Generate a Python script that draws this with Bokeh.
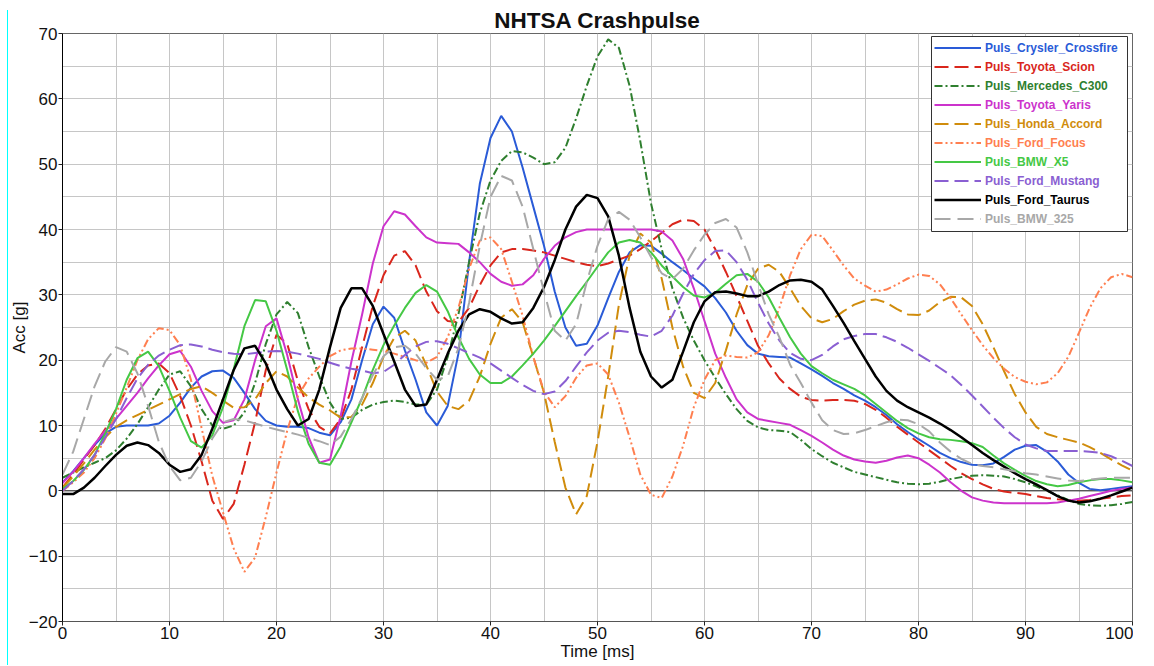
from bokeh.plotting import figure
from bokeh.models import (ColumnDataSource, Range1d, SingleIntervalTicker, Span,
                          Legend, LegendItem, BoxAnnotation)
from bokeh.embed import file_html
from bokeh.resources import INLINE

# ---------------- data ----------------
time_ms = list(range(0, 101))

crysler_crossfire = [
    1.3, 3.0, 5.0, 7.0, 8.8, 9.8, 10.0, 10.0, 10.0, 10.3,
    11.5, 13.5, 15.8, 17.5, 18.3, 18.4, 17.3, 15.0, 12.5, 10.7,
    10.0, 9.8, 9.8, 9.6, 8.9, 8.5, 10.5, 14.0, 20.0, 25.5,
    28.2, 26.5, 21.5, 17.0, 12.0, 10.0, 13.0, 21.0, 35.0, 47.0,
    54.0, 57.4, 55.0, 49.5, 43.5, 37.5, 30.5, 25.0, 22.2, 22.5,
    25.3, 29.5, 33.5, 36.5, 37.6, 37.5, 36.3, 35.0, 33.8, 32.5,
    31.3, 29.5, 27.3, 24.5, 22.3, 21.0, 20.6, 20.5, 20.4, 19.5,
    18.6, 17.6, 16.5, 15.6, 14.6, 13.8, 12.8, 11.6, 10.2, 9.0,
    7.9, 6.9, 5.8, 5.0, 4.4, 4.0, 3.9, 4.2, 5.2, 6.3,
    6.9, 7.0, 6.0, 4.5, 2.5, 1.2, 0.3, 0.1, 0.3, 0.5, 0.7]

toyota_scion = [
    0.5, 2.5, 4.8, 7.0, 9.5, 12.5, 15.5, 17.8, 19.2, 19.5,
    18.0, 14.5, 10.0, 4.5, -1.5, -4.3, -2.0, 4.0, 10.5, 18.5,
    23.9, 22.5, 16.8, 12.5, 9.8, 8.8, 11.0, 15.5, 22.0, 28.3,
    33.0, 36.0, 36.7, 34.5, 30.5, 27.5, 26.0, 25.8, 28.0, 31.5,
    34.5, 36.5, 37.0, 37.0, 36.8, 36.5, 36.0, 35.5, 35.0, 34.6,
    34.4, 34.8, 35.4, 36.0, 37.0, 38.2, 39.5, 40.8, 41.5, 41.3,
    40.0, 37.0, 33.5, 29.8, 26.0, 22.2, 19.5, 17.2, 15.6, 14.4,
    13.9, 13.8, 13.9, 13.9, 13.8, 13.3, 12.4, 11.2, 9.8, 8.6,
    7.4, 6.2, 5.0, 3.8, 2.7, 1.8, 1.0, 0.3, -0.1, -0.3,
    -0.5, -0.8, -1.1, -1.3, -1.4, -1.5, -1.4, -1.2, -1.0, -0.8, -0.7]

mercedes_c300 = [
    2.0, 2.8, 3.6, 4.3, 5.0, 6.2, 8.0, 10.2, 12.8, 15.5,
    17.8, 18.3, 16.0, 12.5, 10.0, 9.5, 10.0, 12.0, 16.5, 22.5,
    27.0, 28.9, 27.2, 22.0, 17.5, 13.5, 11.0, 11.2, 12.4, 13.2,
    13.6, 13.8, 13.6, 13.2, 13.2, 15.5, 20.5, 27.0, 35.0, 42.5,
    47.5, 50.5, 52.0, 51.8, 51.0, 50.0, 50.3, 52.5, 57.0, 62.0,
    66.5, 69.1, 67.8, 62.0, 53.5, 44.0, 37.0, 31.0, 26.5, 23.0,
    20.0, 17.3, 14.8, 12.5, 10.7, 9.7, 9.3, 9.2, 9.0, 7.8,
    6.4, 5.3, 4.3, 3.6, 2.9, 2.5, 2.1, 1.7, 1.3, 1.1,
    1.0, 1.1, 1.4, 1.8, 2.1, 2.3, 2.4, 2.3, 2.2, 1.8,
    1.3, 0.7, 0.0, -0.7, -1.4, -2.0, -2.2, -2.3, -2.2, -2.0, -1.7]

toyota_yaris = [
    1.2, 2.9, 5.0, 7.2, 9.2, 11.0, 13.0, 15.0, 17.2, 19.2,
    20.9, 21.4, 19.0, 15.3, 12.2, 10.4, 10.8, 14.0, 20.0, 25.2,
    26.4, 20.8, 14.0, 8.2, 4.3, 4.8, 11.5, 19.8, 27.0, 34.8,
    40.5, 42.8, 42.3, 40.5, 38.8, 38.0, 37.9, 37.8, 36.5, 35.0,
    33.2, 32.0, 31.4, 31.6, 33.0, 35.5, 37.5, 38.8, 39.6, 40.0,
    40.0, 40.0, 40.0, 40.0, 40.0, 40.0, 39.7, 38.3, 35.5, 31.0,
    26.0, 21.0, 17.3, 14.0, 12.0, 11.0, 10.7, 10.4, 10.1, 9.3,
    8.4, 7.4, 6.3, 5.4, 4.8, 4.5, 4.3, 4.6, 5.1, 5.4,
    5.0, 4.0, 2.8, 1.3, 0.0, -1.0, -1.5, -1.8, -1.9, -1.9,
    -1.9, -1.9, -1.9, -1.8, -1.5, -1.2, -0.8, -0.4, 0.0, 0.3, 0.5]

honda_accord = [
    0.5, 2.2, 4.2, 6.3, 8.2, 9.8, 10.8, 11.6, 12.4, 13.2,
    14.0, 14.8, 15.6, 16.0, 15.0, 13.8, 12.7, 12.8, 14.0, 16.5,
    18.3, 17.5, 15.8, 14.3, 13.2, 12.3, 11.2, 11.3, 13.2, 16.5,
    20.5, 23.4, 24.5, 23.0, 19.2, 15.2, 13.0, 12.5, 13.8, 17.5,
    22.5, 26.5, 27.8, 25.8, 20.5, 15.0, 7.5, 0.5, -3.6, -0.8,
    7.5, 17.5, 28.5, 36.0, 39.4, 38.0, 32.5, 25.0, 19.0, 15.0,
    14.2, 16.5, 21.5, 27.0, 31.5, 34.0, 34.6, 33.5, 31.0, 28.3,
    26.4, 25.8, 26.3, 27.5, 28.5, 29.1, 29.3, 28.8, 27.8, 27.0,
    26.9, 27.6, 28.9, 29.7, 29.6, 28.3, 25.5, 22.0, 18.3, 14.8,
    12.0, 9.8, 8.7, 8.2, 7.8, 7.4, 6.7, 5.8, 4.8, 3.9, 3.1]

ford_focus = [
    0.0, 1.3, 2.8, 5.0, 8.0, 11.8, 15.8, 20.0, 23.2, 24.9,
    24.6, 22.3, 17.0, 9.6, 2.3, -3.3, -8.8, -12.4, -10.2, -4.0,
    2.8, 9.2, 14.5, 17.2, 19.0, 20.6, 21.5, 21.8, 21.8, 21.6,
    21.4, 21.0, 20.5, 20.0, 19.6, 20.5, 23.5, 28.0, 34.0, 38.3,
    38.8, 37.0, 32.0, 26.8, 20.5, 15.2, 12.8, 14.5, 17.3, 19.2,
    19.5, 17.8, 13.5, 8.2, 2.5, -0.6, -1.1, 2.2, 6.9, 12.8,
    17.0, 20.0, 20.7, 20.5, 20.4, 21.2, 23.8, 28.0, 33.0, 37.0,
    39.2, 39.0, 36.8, 34.5, 32.5, 31.4, 30.5, 30.8, 31.6, 32.5,
    33.1, 32.9, 31.6, 29.5, 27.0, 24.6, 22.3, 20.3, 18.7, 17.4,
    16.7, 16.3, 16.6, 18.0, 20.5, 24.2, 28.0, 31.0, 32.7, 33.2, 32.7]

bmw_x5 = [
    0.3, 1.5, 3.2, 5.5, 8.8, 12.5, 17.0, 20.3, 21.3, 19.1,
    15.3, 11.2, 7.6, 6.6, 8.5, 12.8, 18.6, 25.2, 29.2, 29.0,
    24.5, 18.5, 12.2, 7.2, 4.3, 4.0, 6.8, 10.5, 14.2, 18.5,
    22.3, 25.3, 28.0, 30.3, 31.5, 30.5, 27.5, 23.5, 20.2, 17.8,
    16.5, 16.5, 17.5, 19.2, 21.0, 23.0, 25.2, 27.5, 29.8, 32.0,
    34.3, 36.5, 38.0, 38.4, 38.0, 36.5, 34.5, 32.8, 31.2, 29.9,
    29.6, 30.3, 31.7, 33.0, 33.2, 32.0, 29.6, 26.5, 23.5, 21.0,
    19.1, 18.0, 17.0, 16.3, 15.6, 14.6, 13.3, 12.0, 10.7, 9.6,
    8.8, 8.2, 7.9, 7.8, 7.6, 7.3, 6.7, 5.4, 4.2, 3.2,
    2.3, 1.5, 1.0, 0.7, 0.9, 1.3, 1.6, 1.8, 1.8, 1.6, 1.3]

ford_mustang = [
    0.0, 1.5, 3.3, 5.5, 8.2, 11.0, 14.2, 17.2, 19.3, 20.7,
    21.6, 22.3, 22.4, 22.1, 21.6, 21.2, 21.0, 20.9, 21.1, 21.3,
    21.4, 21.3, 21.0, 20.6, 20.2, 19.6, 19.1, 18.7, 18.4, 18.0,
    18.2, 19.3, 20.8, 22.1, 22.8, 22.9, 22.5, 21.8, 21.1, 20.4,
    19.5, 18.4, 17.3, 16.2, 15.3, 14.8, 15.2, 16.8, 19.0, 21.2,
    23.0, 24.2, 24.5, 24.3, 23.9, 23.6, 24.5, 26.8, 30.2, 33.2,
    35.3, 36.7, 36.8, 35.0, 32.3, 28.8, 25.6, 23.0, 21.1, 20.2,
    20.0, 20.8, 22.1, 23.2, 23.7, 24.0, 24.0, 23.5, 22.8, 21.9,
    20.9, 19.9, 18.8, 17.7, 16.2, 14.6, 12.9, 11.2, 9.6, 8.2,
    7.1, 6.5, 6.1, 6.1, 6.1, 6.1, 6.0, 5.8, 5.3, 4.6, 3.8]

ford_taurus = [
    -0.5, -0.5, 0.5, 2.0, 3.8, 5.5, 6.9, 7.4, 7.0, 5.8,
    4.0, 2.9, 3.3, 5.5, 9.5, 14.0, 18.5, 21.8, 22.2, 19.5,
    15.5, 12.5, 10.0, 11.0, 15.5, 22.0, 28.0, 31.0, 31.0, 28.3,
    24.0, 19.8, 15.5, 13.0, 13.2, 17.0, 21.0, 24.5, 27.0, 27.8,
    27.4, 26.4, 25.6, 25.8, 28.0, 31.2, 35.3, 40.0, 43.5, 45.3,
    44.8, 42.0, 36.0, 28.0, 21.3, 17.5, 15.8, 17.0, 21.3, 25.8,
    29.0, 30.4, 30.5, 30.2, 29.8, 29.8, 30.5, 31.5, 32.2, 32.3,
    32.0, 30.8, 28.3, 25.7, 22.9, 20.2, 17.5, 15.3, 13.8, 12.8,
    12.0, 11.2, 10.3, 9.3, 8.2, 7.0, 5.8, 4.7, 3.7, 2.7,
    1.8, 1.0, 0.1, -0.8, -1.5, -1.8, -1.6, -1.2, -0.7, -0.1, 0.5]

bmw_325 = [
    2.5, 6.0, 11.0, 16.0, 19.8, 22.0, 21.3, 18.0, 13.0, 7.5,
    3.8, 1.6, 2.0, 4.5, 8.0, 10.5, 11.0, 10.8, 10.3, 9.8,
    9.4, 9.0, 8.6, 8.1, 7.6, 7.0, 8.3, 11.0, 14.2, 17.7,
    20.6, 22.0, 22.2, 21.0, 18.8, 17.0, 17.5, 21.8, 28.8, 37.5,
    45.0, 48.2, 47.5, 43.5, 37.0, 30.5, 24.5, 23.0, 25.5, 32.0,
    37.5, 41.6, 42.7, 41.5, 38.8, 35.8, 33.3, 32.4, 34.0, 36.8,
    39.2, 41.0, 41.6, 40.3, 36.5, 31.7, 27.0, 23.5, 19.3, 16.5,
    13.5, 10.8, 9.3, 8.7, 8.8, 9.3, 9.9, 10.5, 10.9, 10.8,
    10.2, 9.1, 7.4, 6.0, 4.9, 4.1, 3.8, 3.6, 3.3, 3.0,
    2.7, 2.5, 2.2, 1.9, 1.6, 1.5, 1.7, 1.9, 2.0, 2.0, 2.0]

series_names = ["Puls_Crysler_Crossfire", "Puls_Toyota_Scion", "Puls_Mercedes_C300",
                "Puls_Toyota_Yaris", "Puls_Honda_Accord", "Puls_Ford_Focus",
                "Puls_BMW_X5", "Puls_Ford_Mustang", "Puls_Ford_Taurus", "Puls_BMW_325"]
series_values = [crysler_crossfire, toyota_scion, mercedes_c300, toyota_yaris,
                 honda_accord, ford_focus, bmw_x5, ford_mustang, ford_taurus, bmw_325]

x_tick_step = 10
y_tick_step = 10
grid_step = 5

# ---------------- styles ----------------
colors = ["#2a5bd7", "#d9261c", "#2f7f2f", "#cc33cc", "#d08c0c",
          "#ff7f50", "#45c845", "#8a5fd2", "#000000", "#a8a8a8"]
dashes = ["solid", "14 6", "8 3 2 3", "solid", "14 6",
          "8 3 2 3 2 3", "solid", "14 6", "solid", "16 7"]
widths = [2, 2, 2, 2, 2, 2, 2, 2, 2.5, 2]

FONT = "Liberation Sans"

data = {"t": time_ms}
for i, vals in enumerate(series_values):
    data["s%d" % i] = vals
source = ColumnDataSource(data)

p = figure(width=1133, height=665, output_backend="svg", toolbar_location=None,
           x_range=Range1d(0, 100), y_range=Range1d(-20, 70),
           title="NHTSA Crashpulse",
           min_border_left=62, min_border_right=1, min_border_top=33, min_border_bottom=44)
p.background_fill_color = "white"
# transparent border area so the element background (thin cyan edge line) shows
p.border_fill_alpha = 0.0
p.styles = {
    "background-color": "white",
    "background-image": "linear-gradient(#00ffff, #00ffff)",
    "background-repeat": "no-repeat",
    "background-position": "7px 10px",
    "background-size": "1px 100%",
}
p.outline_line_color = "#666666"
p.outline_line_width = 1

p.title.text_font = FONT
p.title.text_font_size = "22.5px"
p.title.text_font_style = "bold"
p.title.text_color = "#111111"
p.title.align = "center"
p.title.text_line_height = 1.0
p.title.standoff = 1
p.title.offset = 0

# grid every 5
p.xgrid.ticker = SingleIntervalTicker(interval=grid_step)
p.ygrid.ticker = SingleIntervalTicker(interval=grid_step)
for g in (p.xgrid, p.ygrid):
    g.grid_line_color = "#c6c6c6"
    g.grid_line_width = 1

# axes
p.xaxis.ticker = SingleIntervalTicker(interval=x_tick_step)
p.yaxis.ticker = SingleIntervalTicker(interval=y_tick_step)
for ax in (p.xaxis, p.yaxis):
    ax.major_label_text_font = FONT
    ax.major_label_text_font_size = "17px"
    ax.major_label_text_color = "#111111"
    ax.major_label_text_line_height = 1.0
    ax.major_tick_out = 4
    ax.major_tick_in = 0
    ax.minor_tick_line_color = None
    ax.major_tick_line_color = "#222222"
    ax.axis_label_text_font = FONT
    ax.axis_label_text_font_size = "17px"
    ax.axis_label_text_font_style = "normal"
    ax.axis_label_text_color = "#111111"
    ax.axis_label_text_line_height = 1.0
p.xaxis.major_label_standoff = 1
p.yaxis.major_label_standoff = 1
p.xaxis.axis_line_color = "#555555"
p.yaxis.axis_line_color = "#000000"
p.xaxis.axis_label = "Time [ms]"
p.yaxis.axis_label = "Acc [g]"
p.xaxis.axis_label_standoff = 0
p.yaxis.axis_label_standoff = -3

# zero line
p.add_layout(Span(location=0, dimension="width", line_color="#222222",
                  line_width=1, level="underlay"))

renderers = []
for i in range(len(series_values)):
    r = p.line("t", "s%d" % i, source=source, line_color=colors[i],
               line_width=widths[i], line_dash=dashes[i])
    renderers.append(r)

# legend frame (screen px from the frame's bottom-left)
p.add_layout(BoxAnnotation(left=869, right=1065, top=585, bottom=390,
                           left_units="screen", right_units="screen",
                           top_units="screen", bottom_units="screen",
                           fill_color="white", fill_alpha=1.0,
                           line_color="#333333", line_width=1, line_alpha=1.0))

# one legend per item so each label gets its own colour
for i, name in enumerate(series_names):
    leg = Legend(items=[LegendItem(label=name, renderers=[renderers[i]])],
                 location=(872, 564 - 19 * i), padding=0, margin=0, spacing=0,
                 glyph_width=47, glyph_height=19, label_height=19,
                 label_standoff=4, border_line_alpha=0, background_fill_alpha=0,
                 label_text_font=FONT, label_text_font_style="bold",
                 label_text_font_size="12px", label_text_color=colors[i])
    p.add_layout(leg)

open("out.html", "w").write(file_html(p, INLINE))
